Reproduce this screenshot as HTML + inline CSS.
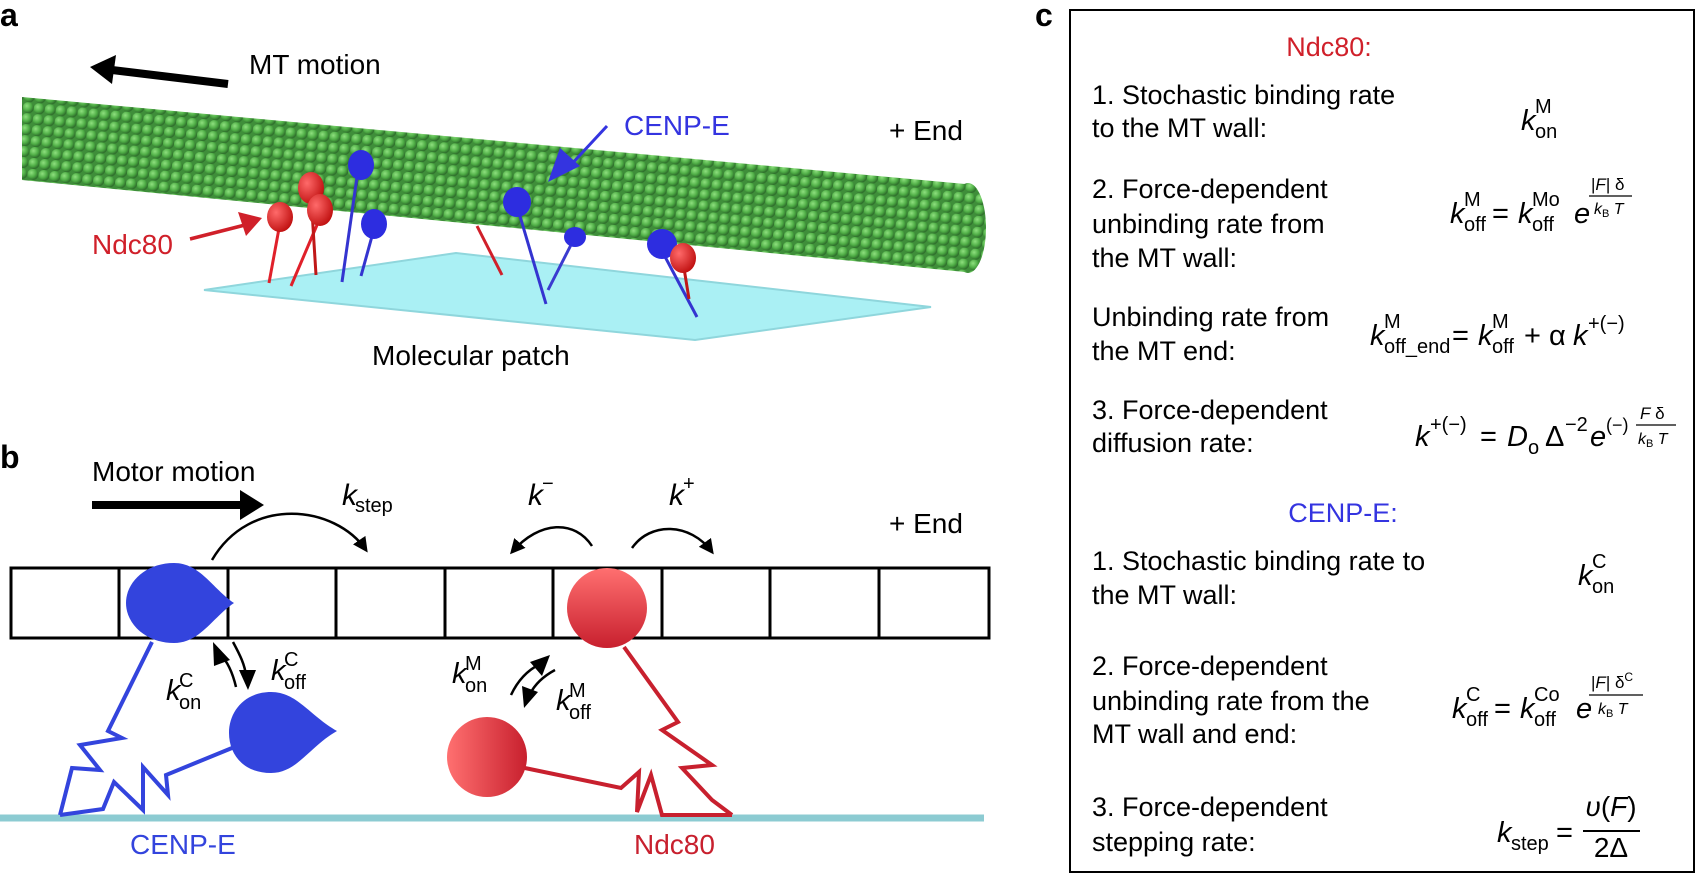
<!DOCTYPE html>
<html><head><meta charset="utf-8"><style>
html,body{margin:0;padding:0;background:#fff;}
svg{display:block;font-family:"Liberation Sans",Arial,sans-serif;}
</style></head><body>
<svg width="1701" height="875" viewBox="0 0 1701 875" xmlns="http://www.w3.org/2000/svg">
<defs>
<radialGradient id="gb" cx="35%" cy="35%" r="65%"><stop offset="0" stop-color="#8fe07f"/><stop offset="0.6" stop-color="#4fae46"/><stop offset="1" stop-color="#2f6f2c"/></radialGradient>
<pattern id="mt" width="11" height="11" patternUnits="userSpaceOnUse" patternTransform="rotate(5.5)"><rect width="11" height="11" fill="#3f8e3a"/><circle cx="5.5" cy="5.5" r="5.6" fill="url(#gb)"/></pattern>
<radialGradient id="rb" cx="35%" cy="35%" r="70%"><stop offset="0" stop-color="#ff6a6a"/><stop offset="1" stop-color="#c01010"/></radialGradient>
<linearGradient id="rg1" x1="0" y1="0" x2="0" y2="1"><stop offset="0" stop-color="#ff7070"/><stop offset="1" stop-color="#c8202e"/></linearGradient>
<linearGradient id="rg2" x1="0" y1="0" x2="1" y2="0"><stop offset="0" stop-color="#ff7070"/><stop offset="1" stop-color="#c8202e"/></linearGradient>
<marker id="ah" viewBox="0 0 10 10" refX="8" refY="5" markerWidth="6" markerHeight="6" orient="auto"><path d="M0,0 L10,5 L0,10 z" fill="#000"/></marker>
</defs>

<!-- Panel a -->
<text x="0" y="26" font-size="32" font-weight="bold">a</text>
<line x1="228" y1="84" x2="112" y2="70" stroke="#000" stroke-width="8"/>
<path d="M90,67 L116,55 L112,84 z" fill="#000"/>
<text x="249" y="74" font-size="28">MT motion</text>
<polygon points="204,290 456,253 931,307 695,340" fill="#aaf0f4" stroke="#8fd6dc" stroke-width="2"/>
<g stroke-width="3">
<line x1="477" y1="226" x2="502" y2="275" stroke="#d0202a"/>
<line x1="575" y1="237" x2="548" y2="290" stroke="#3b3bd0"/>
</g>
<polygon points="22,97 965,184 965,272 22,180" fill="url(#mt)"/>
<ellipse cx="968" cy="228" rx="18" ry="45" fill="url(#mt)"/>
<text x="889" y="140" font-size="28">+ End</text>
<g stroke-width="3">
<line x1="280" y1="223" x2="269" y2="283" stroke="#e0202a"/>
<line x1="320" y1="218" x2="291" y2="286" stroke="#e0202a"/>
<line x1="311" y1="195" x2="316" y2="275" stroke="#c01818"/>
<line x1="358" y1="170" x2="342" y2="282" stroke="#3434d0"/>
<line x1="374" y1="229" x2="361" y2="276" stroke="#3434d0"/>
<line x1="517" y1="206" x2="546" y2="304" stroke="#3434d0"/>
<line x1="662" y1="251" x2="697" y2="317" stroke="#3434d0"/>
<line x1="683" y1="262" x2="689" y2="299" stroke="#c01818"/>
</g>
<g fill="#2d2de0">
<ellipse cx="361" cy="165" rx="13" ry="15"/>
<ellipse cx="374" cy="224" rx="13" ry="15"/>
<ellipse cx="517" cy="202" rx="14" ry="15"/>
<ellipse cx="575" cy="237" rx="11" ry="10"/>
<ellipse cx="662" cy="244" rx="15" ry="15"/>
</g>
<g fill="url(#rb)">
<ellipse cx="311" cy="188" rx="13" ry="16"/>
<ellipse cx="320" cy="210" rx="13" ry="16"/>
<ellipse cx="280" cy="217" rx="13" ry="15"/>
<ellipse cx="683" cy="258" rx="13" ry="15"/>
</g>
<text x="92" y="254" font-size="28" fill="#d0202a">Ndc80</text>
<line x1="190" y1="239" x2="245" y2="225" stroke="#d0202a" stroke-width="3.5"/>
<path d="M262,218 L238,212 L246,236 z" fill="#d0202a"/>
<text x="624" y="135" font-size="28" fill="#3434e0">CENP-E</text>
<line x1="607" y1="126" x2="568" y2="168" stroke="#3434e0" stroke-width="3"/>
<path d="M548,182 L560,148 L580,166 z" fill="#3434e0"/>
<text x="372" y="365" font-size="28">Molecular patch</text>

<!-- Panel b -->
<text x="0" y="468" font-size="32" font-weight="bold">b</text>
<text x="92" y="481" font-size="28">Motor motion</text>
<line x1="92" y1="505" x2="242" y2="505" stroke="#000" stroke-width="8"/>
<path d="M264,505 L240,490 L240,520 z" fill="#000"/>
<text x="889" y="533" font-size="28">+ End</text>
<rect x="11" y="568" width="978" height="70" fill="none" stroke="#000" stroke-width="3"/>
<g stroke="#000" stroke-width="3">
<line x1="119" y1="568" x2="119" y2="638"/><line x1="228" y1="568" x2="228" y2="638"/>
<line x1="336" y1="568" x2="336" y2="638"/><line x1="445" y1="568" x2="445" y2="638"/>
<line x1="553" y1="568" x2="553" y2="638"/><line x1="662" y1="568" x2="662" y2="638"/>
<line x1="770" y1="568" x2="770" y2="638"/><line x1="879" y1="568" x2="879" y2="638"/>
</g>
<line x1="0" y1="818" x2="984" y2="818" stroke="#8ccbd2" stroke-width="7"/>
<path d="M212,560 C250,495 335,505 366,550" fill="none" stroke="#000" stroke-width="2.5" marker-end="url(#ah)"/>
<path d="M592,546 C575,520 540,520 512,552" fill="none" stroke="#000" stroke-width="2.5" marker-end="url(#ah)"/>
<path d="M632,548 C650,522 690,522 712,552" fill="none" stroke="#000" stroke-width="2.5" marker-end="url(#ah)"/>
<text x="342" y="505" font-size="30" font-style="italic">k</text><text x="355" y="512" font-size="20">step</text>
<text x="528" y="505" font-size="30" font-style="italic">k</text><text x="542" y="490" font-size="20">−</text>
<text x="669" y="505" font-size="30" font-style="italic">k</text><text x="683" y="490" font-size="20">+</text>
<g fill="none" stroke="#3344dd" stroke-width="4">
<polyline points="152,642 108,731 122,738 80,745 100,770 72,768 60,815"/>
<polyline points="232,748 166,775 168,795 143,767 143,810 114,782 103,809 60,815"/>
</g>
<path d="M174,563 C200,563 212,588 234,603 C212,618 200,643 174,643 C146,643 126,624 126,603 C126,582 146,563 174,563 z" fill="#3344dd"/>
<path d="M271,692 C297,692 309,715 337,731 C309,747 297,773 271,773 C243,773 229,754 229,733 C229,711 245,692 271,692 z" fill="#3344dd"/>
<g fill="none" stroke="#c8202e" stroke-width="4">
<polyline points="624,647 678,722 662,730 712,765 682,768 712,800 732,815"/>
<polyline points="520,767 621,788 639,772 637,812 651,775 662,815 732,815"/>
</g>
<ellipse cx="607" cy="608" rx="40" ry="40" fill="url(#rg1)"/>
<ellipse cx="487" cy="757" rx="40" ry="40" fill="url(#rg2)"/>
<!-- blue binding arrows -->
<path d="M236,687 C232,670 226,660 220,654" fill="none" stroke="#000" stroke-width="2.5"/>
<path d="M213,642 L230,660 L214,666 z" fill="#000"/>
<path d="M233,642 C240,655 245,665 246,676" fill="none" stroke="#000" stroke-width="2.5"/>
<path d="M248,690 L239,670 L256,670 z" fill="#000"/>
<text x="166" y="700" font-size="29" font-style="italic">k</text><text x="179" y="709" font-size="20">on</text><text x="179" y="687" font-size="20">C</text>
<text x="271" y="680" font-size="29" font-style="italic">k</text><text x="284" y="689" font-size="20">off</text><text x="284" y="666" font-size="20">C</text>
<!-- red binding arrows -->
<path d="M511,695 C518,680 528,670 540,664" fill="none" stroke="#000" stroke-width="2.5"/>
<path d="M550,655 L542,676 L530,662 z" fill="#000"/>
<path d="M555,670 C542,677 534,686 530,694" fill="none" stroke="#000" stroke-width="2.5"/>
<path d="M524,708 L522,686 L538,692 z" fill="#000"/>
<text x="452" y="683" font-size="29" font-style="italic">k</text><text x="465" y="692" font-size="20">on</text><text x="465" y="670" font-size="20">M</text>
<text x="556" y="710" font-size="29" font-style="italic">k</text><text x="569" y="719" font-size="20">off</text><text x="569" y="697" font-size="20">M</text>
<text x="130" y="854" font-size="28" fill="#3344dd">CENP-E</text>
<text x="634" y="854" font-size="28" fill="#c8202e">Ndc80</text>

<!-- Panel c -->
<text x="1035" y="26" font-size="32" font-weight="bold">c</text>
<rect x="1070" y="10" width="624" height="862" fill="none" stroke="#000" stroke-width="2"/>
<g font-size="27">
<text x="1329" y="56" text-anchor="middle" fill="#d0202a">Ndc80:</text>
<text x="1092" y="104">1. Stochastic binding rate</text>
<text x="1092" y="137">to the MT wall:</text>
<text x="1092" y="198">2. Force-dependent</text>
<text x="1092" y="233">unbinding rate from</text>
<text x="1092" y="267">the MT wall:</text>
<text x="1092" y="326">Unbinding rate from</text>
<text x="1092" y="360">the MT end:</text>
<text x="1092" y="419">3. Force-dependent</text>
<text x="1092" y="452">diffusion rate:</text>
<text x="1343" y="522" text-anchor="middle" fill="#3434e0">CENP-E:</text>
<text x="1092" y="570">1. Stochastic binding rate to</text>
<text x="1092" y="604">the MT wall:</text>
<text x="1092" y="675">2. Force-dependent</text>
<text x="1092" y="710">unbinding rate from the</text>
<text x="1092" y="743">MT wall and end:</text>
<text x="1092" y="816">3. Force-dependent</text>
<text x="1092" y="851">stepping rate:</text>
</g>
<g font-size="29">
<text x="1521" y="130" font-style="italic">k</text><text x="1535" y="138" font-size="20">on</text><text x="1535" y="113" font-size="20">M</text>
<text x="1450" y="223" font-style="italic">k</text><text x="1464" y="231" font-size="20">off</text><text x="1464" y="206" font-size="20">M</text>
<text x="1492" y="223">=</text>
<text x="1518" y="223" font-style="italic">k</text><text x="1532" y="231" font-size="20">off</text><text x="1532" y="206" font-size="20">Mo</text>
<text x="1574" y="223" font-style="italic">e</text>
<text x="1591" y="190" font-size="17">|<tspan font-style="italic">F</tspan>| δ</text>
<line x1="1589" y1="196" x2="1632" y2="196" stroke="#000" stroke-width="1.3"/>
<text x="1594" y="214" font-size="16" font-style="italic">k<tspan font-style="normal" font-size="11" dy="3">B</tspan><tspan dy="-3"> T</tspan></text>
<text x="1370" y="345" font-style="italic">k</text><text x="1384" y="353" font-size="20">off_end</text><text x="1384" y="328" font-size="20">M</text>
<text x="1452" y="345">=</text>
<text x="1478" y="345" font-style="italic">k</text><text x="1492" y="353" font-size="20">off</text><text x="1492" y="328" font-size="20">M</text>
<text x="1524" y="345">+ α</text>
<text x="1573" y="345" font-style="italic">k</text><text x="1588" y="330" font-size="20">+(−)</text>
<text x="1415" y="446" font-style="italic">k</text><text x="1430" y="431" font-size="20">+(−)</text>
<text x="1480" y="446">=</text>
<text x="1507" y="446" font-style="italic">D</text><text x="1528" y="454" font-size="20">o</text>
<text x="1545" y="446">Δ</text><text x="1565" y="431" font-size="20">−2</text>
<text x="1590" y="446" font-style="italic">e</text><text x="1606" y="431" font-size="18">(−)</text>
<text x="1640" y="419" font-size="17"><tspan font-style="italic">F</tspan> δ</text>
<line x1="1636" y1="425" x2="1676" y2="425" stroke="#000" stroke-width="1.3"/>
<text x="1638" y="444" font-size="16" font-style="italic">k<tspan font-style="normal" font-size="11" dy="3">B</tspan><tspan dy="-3"> T</tspan></text>
<text x="1578" y="585" font-style="italic">k</text><text x="1592" y="593" font-size="20">on</text><text x="1592" y="568" font-size="20">C</text>
<text x="1452" y="718" font-style="italic">k</text><text x="1466" y="726" font-size="20">off</text><text x="1466" y="701" font-size="20">C</text>
<text x="1494" y="718">=</text>
<text x="1520" y="718" font-style="italic">k</text><text x="1534" y="726" font-size="20">off</text><text x="1534" y="701" font-size="20">Co</text>
<text x="1576" y="718" font-style="italic">e</text>
<text x="1591" y="688" font-size="17">|<tspan font-style="italic">F</tspan>| δ<tspan font-size="12" dy="-7">C</tspan></text>
<line x1="1589" y1="695" x2="1643" y2="695" stroke="#000" stroke-width="1.3"/>
<text x="1598" y="714" font-size="16" font-style="italic">k<tspan font-style="normal" font-size="11" dy="3">B</tspan><tspan dy="-3"> T</tspan></text>
<text x="1497" y="842" font-style="italic">k</text><text x="1511" y="850" font-size="20">step</text>
<text x="1556" y="842">=</text>
<text x="1611" y="816" text-anchor="middle" font-size="28"><tspan font-style="italic">υ</tspan>(<tspan font-style="italic">F</tspan>)</text>
<line x1="1583" y1="831" x2="1640" y2="831" stroke="#000" stroke-width="2"/>
<text x="1611" y="857" text-anchor="middle" font-size="28">2Δ</text>
</g>
</svg>
</body></html>
